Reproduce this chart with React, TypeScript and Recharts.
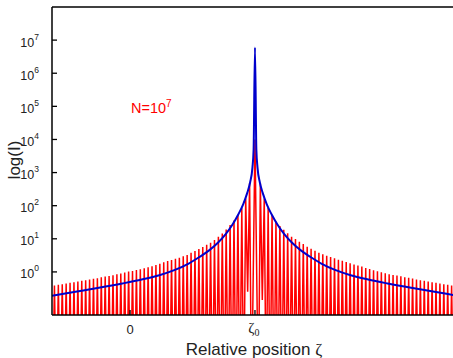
import React from "react";
import { LineChart, Line, XAxis, YAxis, ReferenceLine } from "recharts";

// relative position axis: tick "0" at 0, tick ζ0 at ZETA0
const ZETA0 = 64;
const xTicks = [0, ZETA0];
const yTicks = [1, 10, 100, 1e3, 1e4, 1e5, 1e6, 1e7];

// log10 of the red fringe maxima, fringe k = 1, 2, ... counted outwards from ζ0
const peaksLeft = [
  2.68, 2.22, 1.92, 1.72, 1.55, 1.42, 1.28, 1.16, 1.06, 0.96,
  0.88, 0.82, 0.75, 0.69, 0.63, 0.58, 0.51, 0.47, 0.43, 0.4,
  0.36, 0.33, 0.29, 0.25, 0.21, 0.17, 0.14, 0.11, 0.08, 0.06,
  0.03, 0.01, -0.02, -0.05, -0.07, -0.1, -0.12, -0.14, -0.16, -0.19,
  -0.21, -0.23, -0.25, -0.27, -0.29, -0.31, -0.33, -0.35, -0.37, -0.39, -0.41,
];
const peaksRight = [
  2.67, 2.22, 1.93, 1.72, 1.52, 1.39, 1.27, 1.17, 1.06, 0.99,
  0.91, 0.84, 0.76, 0.7, 0.64, 0.58, 0.53, 0.49, 0.45, 0.41,
  0.37, 0.34, 0.3, 0.26, 0.22, 0.19, 0.16, 0.12, 0.09, 0.05,
  0.02, -0.01, -0.04, -0.07, -0.09, -0.11, -0.13, -0.16, -0.18, -0.2,
  -0.23, -0.25, -0.27, -0.29, -0.31, -0.33, -0.35, -0.37, -0.39, -0.41, -0.43,
];
const centerPeak = 4.0; // red maximum at ζ0
const deepMin = -4; // fringe minima (below the axis)
const innerMinLeft = -0.6; // first minimum that does not reach the bottom
const innerMinRight = -0.85;

// blue curve (mean intensity): distance from ζ0 and log10 value
const envDist = [
  0, 0.7, 1.3, 2.5, 4, 6, 8.5, 11.5, 15, 19, 23.5, 28.5, 34, 41, 49, 58, 68, 80, 92, 104,
];
const envLog = [
  6.78, 3.7, 3.15, 2.7, 2.38, 2.05, 1.74, 1.43, 1.14, 0.88, 0.65, 0.45, 0.25, 0.06,
  -0.1, -0.23, -0.35, -0.48, -0.6, -0.72,
];

type P = { x: number; v: number };

const red: P[] = [];
for (let k = peaksLeft.length; k >= 1; k--) {
  red.push({ x: ZETA0 - (2 * k + 1.75), v: 10 ** (k === 1 ? innerMinLeft : deepMin) });
  red.push({ x: ZETA0 - (2 * k + 0.75), v: 10 ** peaksLeft[k - 1] });
}
red.push({ x: ZETA0 - 1.75, v: 10 ** deepMin });
red.push({ x: ZETA0, v: 10 ** centerPeak });
red.push({ x: ZETA0 + 1.75, v: 10 ** deepMin });
for (let k = 1; k <= peaksRight.length; k++) {
  red.push({ x: ZETA0 + 2 * k + 0.75, v: 10 ** peaksRight[k - 1] });
  red.push({ x: ZETA0 + 2 * k + 1.75, v: 10 ** (k === 1 ? innerMinRight : deepMin) });
}

const blue: P[] = [];
for (let i = envDist.length - 1; i > 0; i--) {
  blue.push({ x: ZETA0 - envDist[i], v: 10 ** envLog[i] });
}
blue.push({ x: ZETA0, v: 10 ** envLog[0] });
for (let i = 1; i < envDist.length; i++) {
  blue.push({ x: ZETA0 + envDist[i], v: 10 ** envLog[i] });
}

const sans = '"Liberation Sans", Arial, Helvetica, sans-serif';
const serif = '"Liberation Serif", "Times New Roman", serif';

function YTick(props: any) {
  const { x, y, payload } = props;
  const n = Math.round(Math.log10(payload.value));
  return (
    <g>
      <line x1={x} x2={x + 5} y1={y} y2={y} stroke="#000" strokeWidth={1.3} />
      <text x={x - 13} y={y + 6.5} textAnchor="end" fontSize={12.5} fill="#222" fontFamily={sans}>
        10
        <tspan dy={-7} fontSize={8.5}>
          {n}
        </tspan>
      </text>
    </g>
  );
}

function XTick(props: any) {
  const { x, y, payload } = props;
  const isZeta = payload.value === ZETA0;
  return (
    <g>
      <line x1={x} x2={x} y1={y} y2={y - 5} stroke="#000" strokeWidth={1.3} />
      {isZeta ? (
        <text x={x - 1} y={y + 18} textAnchor="middle" fontSize={15} fill="#222" fontFamily={serif}>
          ζ
          <tspan dy={3} fontSize={10}>
            0
          </tspan>
        </text>
      ) : (
        <text x={x} y={y + 19} textAnchor="middle" fontSize={13} fill="#222" fontFamily={sans}>
          0
        </text>
      )}
    </g>
  );
}

export default function App() {
  return (
    <div
      style={{
        position: "absolute",
        left: 0,
        top: 0,
        width: 453,
        height: 358,
        overflow: "hidden",
        background: "#fff",
      }}
    >
      <LineChart width={458} height={358} margin={{ top: 7, right: 2, bottom: 0, left: 0 }}>
        <XAxis
          dataKey="x"
          type="number"
          domain={[-40, 167]}
          allowDataOverflow
          ticks={xTicks}
          interval={0}
          tick={(p: any) => <XTick {...p} />}
          tickLine={false}
          tickSize={0}
          tickMargin={0}
          height={43}
          axisLine={{ stroke: "#000", strokeWidth: 1.5 }}
        />
        <YAxis
          type="number"
          scale="log"
          domain={[0.05, 1e8]}
          allowDataOverflow
          ticks={yTicks}
          interval={0}
          tick={(p: any) => <YTick {...p} />}
          tickLine={false}
          tickSize={0}
          tickMargin={0}
          width={52}
          axisLine={{ stroke: "#000", strokeWidth: 1.5 }}
        />
        <ReferenceLine y={1e8} stroke="#000" strokeWidth={1.5} />
        <Line
          data={red}
          dataKey="v"
          type="linear"
          stroke="#ff0000"
          strokeWidth={1.5}
          dot={false}
          isAnimationActive={false}
        />
        <Line
          data={blue}
          dataKey="v"
          type="monotone"
          stroke="#0000cc"
          strokeWidth={2}
          dot={false}
          isAnimationActive={false}
        />
      </LineChart>
      <svg
        width={453}
        height={358}
        style={{ position: "absolute", left: 0, top: 0, pointerEvents: "none" }}
      >
        <text
          x={20}
          y={160}
          textAnchor="middle"
          fontSize={17}
          fill="#222"
          fontFamily={sans}
          transform="rotate(-90 20 160)"
        >
          log(I)
        </text>
        <text x={254} y={355} textAnchor="middle" fontSize={17} fill="#222" fontFamily={sans}>
          Relative position <tspan fontFamily={serif}>ζ</tspan>
        </text>
        <text x={131} y={112.5} fontSize={14.5} fill="#ff0000" fontFamily={sans}>
          N=10
          <tspan dy={-6} fontSize={10}>
            7
          </tspan>
        </text>
      </svg>
    </div>
  );
}
